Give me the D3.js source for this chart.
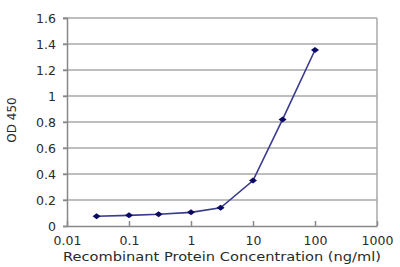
<!DOCTYPE html>
<html><head><meta charset="utf-8">
<script src="https://cdn.jsdelivr.net/npm/d3@7"></script>
<style>body{margin:0;background:#fff}svg{display:block}</style>
</head><body>
<svg id="c" width="400" height="267"></svg>
<script>
const concentrations = [0.03, 0.1, 0.3, 1, 3, 10, 30, 100];
const od450 = [0.075, 0.082, 0.09, 0.105, 0.14, 0.35, 0.82, 1.354];
const xTicks = [0.01, 0.1, 1, 10, 100, 1000];
const xTickLabels = ["0.01", "0.1", "1", "10", "100", "1000"];
const yTicks = [0, 0.2, 0.4, 0.6, 0.8, 1, 1.2, 1.4, 1.6];
const yTickLabels = ["0", "0.2", "0.4", "0.6", "0.8", "1", "1.2", "1.4", "1.6"];
const xTitle = "Recombinant Protein Concentration (ng/ml)";
const yTitle = "OD 450";

const svg = d3.select("#c");
const L = 67, R = 377, T = 18, B = 226;
const x = d3.scaleLog().domain([0.01, 1000]).range([L, R]);
const y = d3.scaleLinear().domain([0, 1.6]).range([B, T]);
const font = "DejaVu Sans, sans-serif";
const tc = "#2a2a2a";

// gridlines
svg.append("g").selectAll("line").data(yTicks.filter(d => d > 0)).join("line")
  .attr("x1", L - 4).attr("x2", R).attr("y1", d => y(d)).attr("y2", d => y(d))
  .attr("stroke", "#a8a8a8").attr("stroke-width", 1.5);
// right border
svg.append("line").attr("x1", R).attr("x2", R).attr("y1", T).attr("y2", B)
  .attr("stroke", "#a8a8a8").attr("stroke-width", 1.5);

// y axis
const ya = svg.append("g").attr("transform", `translate(${L},0)`)
  .call(d3.axisLeft(y).tickValues(yTicks).tickFormat((d, i) => yTickLabels[i]).tickSize(4).tickPadding(8));
ya.select(".domain").attr("stroke", "#888").attr("stroke-width", 1.5);
ya.selectAll(".tick line").attr("stroke", "#888").attr("stroke-width", 1.5);
ya.selectAll("text").attr("font-family", font).attr("font-size", 12.5).attr("fill", tc).attr("x", -11);

// x axis
const xa = svg.append("g").attr("transform", `translate(0,${B})`)
  .call(d3.axisBottom(x).tickValues(xTicks).tickFormat((d, i) => xTickLabels[i]).tickSizeInner(-5).tickSizeOuter(0).tickPadding(12));
xa.select(".domain").attr("stroke", "#888").attr("stroke-width", 1.5);
xa.selectAll(".tick line").attr("stroke", "#888").attr("stroke-width", 1.5);
xa.selectAll("text").attr("font-family", font).attr("font-size", 12.5).attr("fill", tc).attr("y", 10);

// titles
svg.append("text").attr("x", 222).attr("y", 261).attr("text-anchor", "middle")
  .attr("font-family", font).attr("font-size", 12.5).attr("fill", tc)
  .attr("textLength", 318).attr("lengthAdjust", "spacingAndGlyphs").text(xTitle);
svg.append("text").attr("transform", "translate(16,120) rotate(-90)").attr("text-anchor", "middle")
  .attr("font-family", font).attr("font-size", 12).attr("fill", tc).text(yTitle);

// line
const pts = concentrations.map((c, i) => [c, od450[i]]);
svg.append("path").datum(pts)
  .attr("d", d3.line().x(d => x(d[0])).y(d => y(d[1])))
  .attr("fill", "none").attr("stroke", "#3a3a8e").attr("stroke-width", 1.6);
svg.append("g").selectAll("path").data(pts).join("path")
  .attr("transform", d => `translate(${x(d[0])},${y(d[1])})`)
  .attr("d", "M-4,0L0,-3L4,0L0,3Z").attr("fill", "#0a0a66");
</script>
</body></html>
